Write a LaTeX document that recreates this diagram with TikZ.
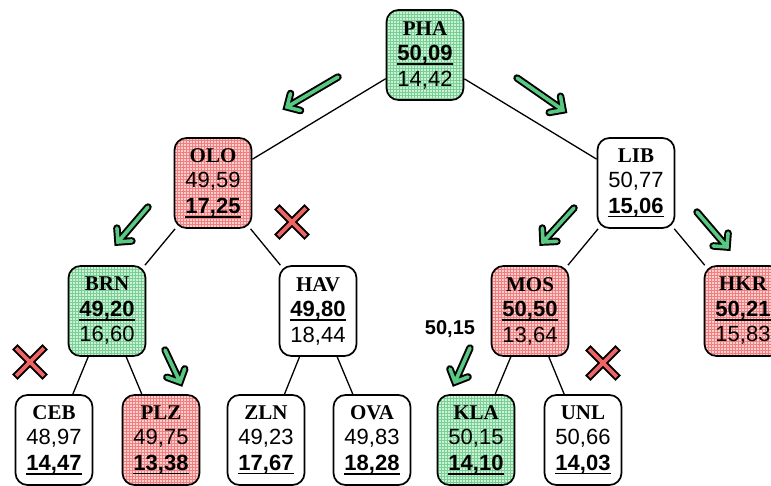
\documentclass[tikz,border=0pt]{standalone}
\usepackage{fontspec}
\setmainfont{Liberation Sans}
\newfontfamily\titlefont{Liberation Serif}
\usetikzlibrary{calc,patterns}

\definecolor{greenbg}{RGB}{204,242,214}
\definecolor{greengrid}{RGB}{120,206,148}
\definecolor{redbg}{RGB}{252,206,206}
\definecolor{redgrid}{RGB}{240,128,128}
\definecolor{arrowgreen}{RGB}{88,200,130}
\definecolor{crossred}{RGB}{240,100,100}

% city name (bold serif) and an underlined bold value
\newcommand\cityname[1]{{\titlefont\bfseries\fontsize{21}{25.5}\selectfont #1}}
\newcommand\ulval[1]{\setbox0\hbox{\bfseries #1}\leavevmode\rlap{\rule[-4.2pt]{\wd0}{1.8pt}}\box0}

% outlined green arrow from tail to tip
\newcommand\greenarrow[3]{%
  \coordinate (#1-tail) at (#2);
  \coordinate (#1-tip) at (#3);
  \foreach \w/\c in {7.5pt/black, 3.6pt/arrowgreen}
    \draw[draw=\c, line width=\w, line cap=round, line join=miter]
      (#1-tail) -- (#1-tip)
      ($(#1-tip)!14pt!45:(#1-tail)$) -- (#1-tip) -- ($(#1-tip)!14pt!-45:(#1-tail)$);
}
% outlined red cross
\newcommand\redcross[2]{%
  \coordinate (#1) at (#2);
  \foreach \w/\c in {7.5pt/black, 3.6pt/crossred}
    \draw[draw=\c, line width=\w, line cap=rect]
      ($(#1)+(-12.5pt,-12.5pt)$) -- ($(#1)+(12.5pt,12.5pt)$)
      ($(#1)+(-12.5pt,12.5pt)$) -- ($(#1)+(12.5pt,-12.5pt)$);
}

\tikzset{
  city/.style={draw, line width=1.7pt, rounded corners=12pt,
    minimum width=77pt, minimum height=90pt, inner sep=0pt, align=center,
    font=\fontsize{22}{25.5}\selectfont},
  plain/.style={city, fill=white},
  good/.style={city, preaction={fill=greenbg}, pattern=grid, pattern color=greengrid},
  bad/.style={city, preaction={fill=redbg}, pattern=grid, pattern color=redgrid},
  edge/.style={line width=1.3pt},
}

\begin{document}
\begin{tikzpicture}[x=1pt, y=-1pt]
\useasboundingbox (0,0) rectangle (771,485);
\clip (0,0) rectangle (771,485);

% node centres
\path
  (425,55) coordinate (cPHA)
  (213,183) coordinate (cOLO)
  (636,183) coordinate (cLIB)
  (107,311) coordinate (cBRN)
  (318,311) coordinate (cHAV)
  (530,311) coordinate (cMOS)
  (743,311) coordinate (cHKR)
  (54,440) coordinate (cCEB)
  (161,440) coordinate (cPLZ)
  (266,440) coordinate (cZLN)
  (372,440) coordinate (cOVA)
  (476,440) coordinate (cKLA)
  (583,440) coordinate (cUNL);

\node[good] (PHA) at (cPHA) {\cityname{PHA}\\\ulval{50,09}\\14,42};
\node[bad]  (OLO) at (cOLO) {\cityname{OLO}\\49,59\\\ulval{17,25}};
\node[plain](LIB) at (cLIB) {\cityname{LIB}\\50,77\\\ulval{15,06}};
\node[good] (BRN) at (cBRN) {\cityname{BRN}\\\ulval{49,20}\\16,60};
\node[plain](HAV) at (cHAV) {\cityname{HAV}\\\ulval{49,80}\\18,44};
\node[bad]  (MOS) at (cMOS) {\cityname{MOS}\\\ulval{50,50}\\13,64};
\node[bad]  (HKR) at (cHKR) {\cityname{HKR}\\\ulval{50,21}\\15,83};
\node[plain](CEB) at (cCEB) {\cityname{CEB}\\48,97\\\ulval{14,47}};
\node[bad]  (PLZ) at (cPLZ) {\cityname{PLZ}\\49,75\\\ulval{13,38}};
\node[plain](ZLN) at (cZLN) {\cityname{ZLN}\\49,23\\\ulval{17,67}};
\node[plain](OVA) at (cOVA) {\cityname{OVA}\\49,83\\\ulval{18,28}};
\node[good] (KLA) at (cKLA) {\cityname{KLA}\\50,15\\\ulval{14,10}};
\node[plain](UNL) at (cUNL) {\cityname{UNL}\\50,66\\\ulval{14,03}};

\draw[edge] (PHA) -- (OLO);
\draw[edge] (PHA) -- (LIB);
\draw[edge] (OLO) -- (BRN);
\draw[edge] (OLO) -- (HAV);
\draw[edge] (LIB) -- (MOS);
\draw[edge] (LIB) -- (HKR);
\draw[edge] (BRN) -- (CEB);
\draw[edge] (BRN) -- (PLZ);
\draw[edge] (HAV) -- (ZLN);
\draw[edge] (HAV) -- (OVA);
\draw[edge] (MOS) -- (KLA);
\draw[edge] (MOS) -- (UNL);

% direction markers
\greenarrow{a1}{338,77}{287,107}
\greenarrow{a2}{517,78}{563,110}
\greenarrow{a3}{148,207}{118,242}
\greenarrow{a4}{165,350}{180,382}
\greenarrow{a5}{574,208}{543,242}
\greenarrow{a6}{697,212}{727,247}
\greenarrow{a7}{470,348}{455,382}

\redcross{x1}{292,222}
\redcross{x2}{30,362}
\redcross{x3}{603,363}

\node[font=\fontsize{20}{24}\selectfont\bfseries] (kla-val) at (450,329) {50,15};
\end{tikzpicture}
\end{document}
